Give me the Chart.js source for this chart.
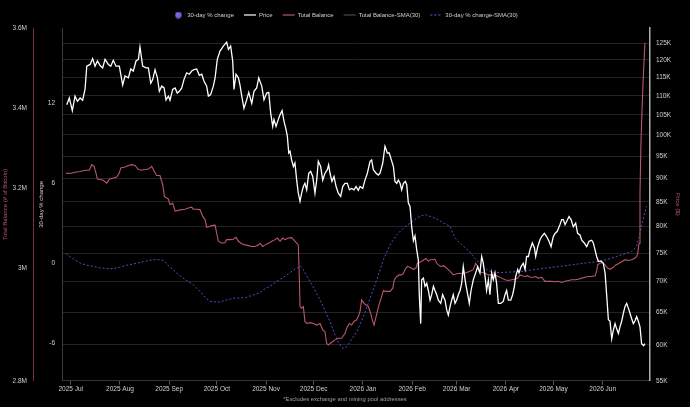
<!DOCTYPE html>
<html>
<head>
<title>Total Balance vs Price</title>
<script src="https://cdn.jsdelivr.net/npm/chart.js"></script>
<style>
  html, body { margin: 0; padding: 0; background: #000; }
  #wrap { width: 690px; height: 407px; }
</style>
</head>
<body>
<div id="wrap"><canvas id="chart"></canvas></div>
<script>
    // x values are days since 2025-07-01
    var monthDays = [0, 31, 62, 92, 123, 153, 184, 215, 243, 274, 304, 335];
    var monthLabels = ['2025 Jul', '2025 Aug', '2025 Sep', '2025 Oct', '2025 Nov', '2025 Dec',
                       '2026 Jan', '2026 Feb', '2026 Mar', '2026 Apr', '2026 May', '2026 Jun'];

    var balanceTickValues = [2.72, 3.0, 3.2, 3.4, 3.6];
    var balanceTickLabels = ['2.8M', '3M', '3.2M', '3.4M', '3.6M'];
    var pctTickValues = [-6, 0, 6, 12];
    var priceTickValues = [55, 60, 65, 70, 75, 80, 85, 90, 95, 100, 105, 110, 115, 120, 125];

    // Price, thousands of USD
    var priceDays = [-2.5,-0.9,1.0,2.7,4.2,5.9,7.5,9.0,10.1,12.2,13.8,15.3,16.8,18.5,20.1,21.6,23.7,25.2,26.8,28.5,
        30.6,32.7,34.2,36.3,37.8,39.4,41.1,42.6,43.6,45.3,47.4,48.9,50.4,51.6,53.1,54.6,55.8,57.3,58.8,60.0,
        61.5,62.5,64.2,65.7,67.1,68.4,69.9,71.3,73.0,74.7,76.2,77.6,79.3,81.0,82.5,83.9,85.6,86.7,88.1,89.8,
        90.9,92.3,94.0,96.1,98.2,99.3,100.7,102.0,102.8,104.1,105.6,106.6,107.7,109.1,110.8,112.1,114.0,115.4,117.1,118.4,
        120.3,121.7,123.4,124.7,125.9,127.2,128.0,129.3,130.7,131.8,133.1,134.3,135.6,136.4,137.3,138.1,139.1,140.2,141.2,142.3,
        143.3,144.4,145.4,146.5,147.5,148.6,149.9,151.1,152.4,153.8,154.9,155.9,157.4,158.7,160.1,161.6,162.4,163.3,164.5,165.8,
        167.1,168.5,170.0,171.3,172.7,174.2,175.5,176.9,178.4,179.7,181.1,182.2,183.9,185.3,186.8,188.5,189.5,190.6,192.3,193.7,
        194.8,196.5,197.9,199.4,200.6,201.9,203.2,204.2,205.3,206.3,207.4,208.4,209.5,210.7,211.6,212.6,213.7,214.7,215.8,216.8,
        217.9,218.9,219.5,220.4,221.0,222.1,223.1,224.2,225.2,226.3,227.3,228.4,229.4,230.5,231.5,233.0,234.2,235.7,236.8,237.8,238.9,
        239.9,240.9,242.0,243.0,244.1,245.2,246.2,247.2,248.7,250.0,251.0,252.1,253.5,255.0,256.3,257.7,258.8,259.8,260.9,261.9,
        263.0,264.0,265.1,266.1,267.2,268.2,269.3,270.8,272.4,273.5,274.5,275.6,277.1,278.3,279.4,280.2,281.5,282.3,283.6,285.0,
        286.1,287.1,288.2,289.2,290.7,292.0,292.8,294.1,295.5,296.6,298.3,299.7,301.2,302.5,303.9,305.0,306.4,308.1,309.2,310.2,
        311.3,312.3,313.8,315.1,316.5,318.0,319.2,320.7,321.8,323.4,324.9,326.4,328.1,329.1,330.2,331.2,332.3,333.9,335.4,336.5,
        337.5,338.6,339.6,340.7,341.7,342.8,343.8,344.9,345.9,347.0,348.0,349.1,350.1,351.6,352.8,354.3,355.3,356.4,357.4,358.5,
        359.5,360.8,361.6];
    var priceValues = [107.6,109.4,106.1,109.9,108.5,109.4,108.8,111.7,118.2,118.7,120.4,118.2,119.7,118.4,117.7,120.2,118.7,118.2,119.9,118.2,
        118.2,112.9,115.4,114.9,117.4,116.8,119.7,120.2,123.9,118.2,117.7,117.7,113.4,114.4,117.2,114.9,111.2,112.6,112.1,108.9,
        109.9,108.8,111.7,112.1,110.7,111.2,112.1,114.4,116.3,115.9,116.8,117.2,117.4,115.6,115.9,114.0,112.6,109.9,110.3,112.6,
        114.9,120.2,122.6,124.1,125.3,123.1,124.1,119.7,111.7,115.9,114.9,112.9,109.9,106.7,108.9,110.9,108.0,111.2,112.1,114.9,
        112.6,108.9,110.7,110.9,105.5,102.1,103.8,102.1,103.8,105.0,106.1,103.4,101.3,99.7,95.7,96.1,94.1,92.6,93.4,89.6,
        86.8,85.1,86.8,88.2,88.9,87.5,91.1,91.5,90.4,86.8,89.6,93.8,92.6,89.6,91.1,91.9,93.0,91.1,89.3,90.4,
        88.2,86.8,86.1,88.2,88.9,88.9,87.5,87.8,87.5,88.2,87.4,88.2,87.8,89.6,91.1,93.8,94.1,91.9,91.1,90.7,
        91.1,93.4,97.3,95.7,95.7,94.1,92.6,89.3,88.9,89.6,88.9,87.5,88.9,89.3,88.6,84.8,84.0,80.0,77.3,78.2,
        75.6,73.8,67.8,63.2,70.3,70.6,69.2,69.7,68.5,66.9,67.8,69.2,68.5,67.8,66.9,66.4,67.8,66.9,65.3,64.5,65.9,
        66.9,67.8,66.4,66.9,67.8,68.5,69.7,72.6,69.7,67.8,66.4,68.5,70.3,71.5,72.6,71.5,74.4,73.2,70.9,68.5,
        70.3,67.8,71.5,70.3,71.5,69.7,66.4,66.4,66.7,67.8,68.5,66.9,66.9,67.8,69.2,70.9,72.1,71.5,72.6,73.2,
        72.1,74.4,74.4,75.6,76.9,76.0,74.4,76.2,77.5,78.1,78.7,78.1,77.2,76.2,78.1,78.7,79.1,80.4,81.4,81.4,
        80.4,81.0,82.0,81.4,80.0,80.7,78.7,78.4,77.4,76.9,76.2,77.2,77.4,76.9,75.6,74.4,73.5,73.6,73.2,71.5,
        67.8,63.8,63.6,60.9,62.2,63.2,62.4,61.7,62.7,63.6,64.8,65.9,66.4,65.3,64.3,63.2,63.6,64.3,63.6,62.7,
        60.2,59.9,60.2];

    // Total balance, millions of BTC
    var balanceDays = [-3.0,-0.4,2.7,5.9,9.0,11.7,13.2,14.7,15.9,16.8,18.5,20.5,22.7,24.3,26.8,28.9,30.6,31.5,34.2,36.3,
        38.4,40.5,42.6,44.7,46.8,48.9,51.0,52.5,54.1,56.2,57.9,59.0,60.4,61.5,62.5,64.2,65.7,67.8,69.9,72.0,
        74.1,76.2,77.2,79.3,81.4,83.1,84.6,85.6,87.3,88.8,90.9,91.9,93.0,95.1,97.2,98.2,100.3,102.4,104.1,105.6,
        107.7,109.8,111.9,114.0,116.1,118.2,
        119.2,120.9,122.4,124.5,126.6,128.7,130.1,131.8,133.5,135.0,137.0,139.1,141.2,143.3,144.0,144.4,145.4,146.5,147.5,148.6,
        150.7,152.8,154.9,157.0,158.7,160.1,161.2,162.2,163.3,165.0,166.4,168.5,170.6,172.7,174.2,175.5,176.9,178.4,180.1,181.1,
        182.2,183.2,184.7,186.0,187.4,188.9,190.2,191.0,192.3,193.1,194.4,195.8,196.9,197.9,199.4,201.1,202.8,203.8,205.3,206.9,
        208.4,209.5,210.5,212.0,213.7,215.8,217.4,218.3,219.5,221.0,222.5,223.7,225.2,226.3,227.9,229.4,230.5,231.5,233.0,234.7,
        236.8,238.9,
        241.0,243.0,245.2,247.2,249.3,251.4,253.5,255.0,256.1,257.1,258.8,260.9,263.0,265.1,267.2,269.3,271.4,273.5,275.6,277.7,
        279.8,281.5,282.9,284.4,286.1,287.8,289.2,291.3,292.8,294.5,296.6,298.7,300.8,302.9,305.0,307.1,309.2,311.3,313.4,315.5,
        317.6,319.7,321.8,323.9,326.0,328.1,330.2,331.2,331.8,333.3,334.8,336.5,338.1,339.6,341.7,343.2,344.9,346.9,349.1,351.2,
        353.3,355.4,356.4,357.1,357.9,358.5,359.1,359.8,360.6,361.6];
    var balanceValues = [3.238,3.237,3.240,3.242,3.245,3.245,3.259,3.255,3.238,3.223,3.222,3.220,3.213,3.223,3.226,3.228,3.238,3.251,3.253,3.257,
        3.259,3.257,3.247,3.245,3.247,3.248,3.255,3.243,3.232,3.232,3.209,3.180,3.176,3.173,3.159,3.163,3.143,3.145,3.147,3.148,
        3.151,3.153,3.148,3.148,3.147,3.130,3.122,3.103,3.105,3.107,3.108,3.088,3.068,3.063,3.065,3.072,3.072,3.073,3.078,3.068,
        3.062,3.059,3.057,3.055,3.055,3.059,
        3.063,3.055,3.059,3.063,3.068,3.072,3.076,3.068,3.076,3.072,3.076,3.077,3.068,3.059,2.972,2.905,2.901,2.905,2.868,2.863,
        2.865,2.863,2.859,2.863,2.847,2.843,2.813,2.809,2.813,2.818,2.822,2.826,2.826,2.838,2.855,2.863,2.859,2.868,2.872,2.880,
        2.893,2.922,2.913,2.909,2.905,2.888,2.868,2.859,2.880,2.893,2.913,2.930,2.945,2.943,2.943,2.943,2.951,2.972,2.980,2.984,
        2.984,2.988,2.997,3.005,3.003,2.998,3.001,3.013,3.015,3.018,3.022,3.025,3.018,3.022,3.022,3.023,3.013,3.009,3.005,3.007,
        3.001,2.993,
        2.984,2.987,2.988,2.987,2.990,2.993,2.997,3.013,3.005,2.993,2.990,2.988,2.984,2.984,2.984,2.980,2.976,2.972,2.970,2.972,
        2.973,2.976,2.984,2.982,2.980,2.982,2.978,2.978,2.980,2.976,2.978,2.968,2.968,2.968,2.967,2.968,2.965,2.968,2.970,2.972,
        2.972,2.973,2.976,2.978,2.980,2.980,2.982,2.993,3.009,3.013,3.015,3.009,3.001,2.998,3.003,3.009,3.012,3.017,3.022,3.020,
        3.022,3.026,3.030,3.038,3.063,3.188,3.313,3.397,3.480,3.563];

    // 30-day % change, SMA(30)
    var pctSmaDays = [-3.0,1.7,5.9,10.1,14.3,18.5,22.7,26.8,31.0,35.2,39.4,43.6,47.8,52.0,56.2,58.3,60.4,64.6,68.8,73.0,
        77.2,81.4,84.6,87.7,90.9,94.0,98.2,102.4,106.6,110.8,115.0,119.2,
        121.3,125.5,129.7,133.9,138.1,142.3,144.8,146.5,150.7,154.9,159.1,163.3,166.4,168.5,170.6,171.7,173.8,175.9,180.1,184.3,
        188.5,192.7,196.9,201.1,205.3,209.5,213.7,217.9,221.0,223.7,226.3,230.5,234.7,238.9,
        242.0,246.2,250.4,254.6,258.8,263.0,266.8,271.4,277.7,284.0,290.3,298.7,307.1,315.5,323.9,332.3,340.7,347.0,353.3,356.4,
        358.5,360.6,362.7];
    var pctSmaValues = [0.73,0.33,0.03,-0.13,-0.23,-0.33,-0.38,-0.38,-0.28,-0.13,-0.03,0.08,0.18,0.28,0.28,0.23,-0.03,-0.48,-0.93,-1.28,
        -1.60,-2.10,-2.53,-2.83,-2.88,-2.88,-2.73,-2.60,-2.58,-2.53,-2.35,-2.18,
        -1.98,-1.68,-1.35,-1.03,-0.68,-0.35,-0.18,-0.48,-1.35,-2.23,-3.23,-4.35,-5.35,-5.85,-6.28,-6.35,-6.23,-5.85,-5.10,-3.98,
        -2.60,-1.23,0.28,1.40,2.15,2.65,3.03,3.40,3.58,3.65,3.53,3.33,3.03,2.78,
        1.90,1.40,0.98,0.40,-0.18,-0.53,-0.68,-0.68,-0.63,-0.60,-0.48,-0.35,-0.23,-0.10,0.03,0.15,0.40,0.65,0.90,1.28,
        2.28,3.40,4.28];

    function pairs(xs, ys) {
        return xs.map(function (x, i) { return { x: x, y: ys[i] }; });
    }

    // legend marker for the 30-day % change item
    var dot = document.createElement('canvas');
    dot.width = 7; dot.height = 7;
    var dctx = dot.getContext('2d');
    dctx.fillStyle = '#7466e0';
    dctx.beginPath(); dctx.arc(3.5, 3.5, 3.2, 0, Math.PI * 2); dctx.fill();

    var red = '#b8586a';
    var tickColor = '#d0d0d0';

    Chart.defaults.font.family = "'Liberation Sans', Arial, sans-serif";
    Chart.defaults.color = tickColor;

    var ctx = document.getElementById('chart').getContext('2d');
    var chart = new Chart(ctx, {
        type: 'line',
        data: {
            datasets: [{
                label: '30-day % change',
                data: [],
                yAxisID: 'pct',
                borderColor: '#7466e0',
                backgroundColor: '#7466e0',
                pointStyle: dot
            },
            {
                label: 'Price',
                data: pairs(priceDays, priceValues),
                yAxisID: 'price',
                borderColor: '#ffffff',
                borderWidth: 1.3,
                pointRadius: 0,
                pointStyle: 'line'
            },
            {
                label: 'Total Balance',
                data: pairs(balanceDays, balanceValues),
                yAxisID: 'bal',
                borderColor: red,
                borderWidth: 1.1,
                pointRadius: 0,
                pointStyle: 'line'
            },
            {
                label: 'Total Balance-SMA(30)',
                data: [],
                yAxisID: 'bal',
                borderColor: '#4a4a4a',
                pointStyle: 'line'
            },
            {
                label: '30-day % change-SMA(30)',
                data: pairs(pctSmaDays, pctSmaValues),
                yAxisID: 'pct',
                borderColor: '#4f4fc8',
                borderWidth: 1,
                borderDash: [2, 2],
                pointRadius: 0,
                pointStyle: 'line'
            }]
        },
        options: {
            responsive: true,
            maintainAspectRatio: false,
            animation: false,
            layout: { padding: { top: 2, bottom: 4 } },
            scales: {
                x: {
                    type: 'linear',
                    min: -5.5,
                    max: 364.8,
                    afterBuildTicks: function (s) { s.ticks = monthDays.map(function (v) { return { value: v }; }); },
                    ticks: {
                        callback: function (v, i) { return monthLabels[i]; },
                        color: tickColor,
                        font: { size: 6.5 },
                        padding: 1,
                        maxRotation: 0,
                        autoSkip: false
                    },
                    grid: { drawOnChartArea: false, drawTicks: true, tickLength: 4, color: '#555' },
                    border: { color: '#333' }
                },
                bal: {
                    position: 'left',
                    weight: 1,
                    min: 2.72,
                    max: 3.6,
                    afterBuildTicks: function (s) { s.ticks = balanceTickValues.map(function (v) { return { value: v }; }); },
                    afterFit: function (s) { s.width = 33; },
                    ticks: {
                        callback: function (v, i) { return balanceTickLabels[i]; },
                        color: tickColor,
                        font: { size: 6.5 },
                        padding: 6
                    },
                    grid: { drawOnChartArea: false, drawTicks: false },
                    border: { color: '#7a2e3d' },
                    title: {
                        display: true,
                        text: 'Total Balance (# of Bitcoin)',
                        color: red,
                        font: { size: 6 },
                        padding: { top: 2, bottom: 0 }
                    }
                },
                pct: {
                    position: 'left',
                    weight: 0,
                    min: -8.775,
                    max: 17.625,
                    afterBuildTicks: function (s) { s.ticks = pctTickValues.map(function (v) { return { value: v }; }); },
                    afterFit: function (s) { s.width = 29; },
                    ticks: { color: tickColor, font: { size: 6.5 }, padding: 7 },
                    grid: { drawOnChartArea: false, drawTicks: false },
                    border: { color: '#3a3a3a' },
                    title: {
                        display: true,
                        text: '30-day % change',
                        color: tickColor,
                        font: { size: 6 },
                        padding: { top: 5, bottom: 0 }
                    }
                },
                price: {
                    type: 'logarithmic',
                    position: 'right',
                    min: 55,
                    max: 129.7,
                    afterBuildTicks: function (s) { s.ticks = priceTickValues.map(function (v) { return { value: v }; }); },
                    afterFit: function (s) { s.width = 40; },
                    ticks: {
                        callback: function (v) { return v + 'K'; },
                        color: tickColor,
                        font: { size: 6.5 },
                        padding: 6
                    },
                    grid: { drawOnChartArea: true, drawTicks: false, color: '#232323' },
                    border: { color: '#b0b0b0', width: 1.5 },
                    title: {
                        display: true,
                        text: 'Price ($)',
                        color: red,
                        font: { size: 6 },
                        padding: { top: 9, bottom: 0 }
                    }
                }
            },
            plugins: {
                legend: {
                    position: 'top',
                    labels: {
                        usePointStyle: true,
                        pointStyleWidth: 12,
                        boxHeight: 6,
                        color: tickColor,
                        font: { size: 6 },
                        padding: 10,
                        generateLabels: function (c) {
                            return Chart.defaults.plugins.legend.labels.generateLabels(c).map(function (item) {
                                var ds = c.data.datasets[item.datasetIndex];
                                item.lineDash = ds.borderDash || [];
                                item.lineWidth = 1.2;
                                item.strokeStyle = ds.borderColor;
                                return item;
                            });
                        }
                    }
                },
                subtitle: {
                    display: true,
                    position: 'bottom',
                    text: '*Excludes exchange and mining pool addresses',
                    color: '#a0a0a0',
                    font: { size: 5.8 },
                    padding: { top: 1.5, bottom: 0 }
                },
                tooltip: { enabled: false }
            }
        }
    });
</script>
</body>
</html>
